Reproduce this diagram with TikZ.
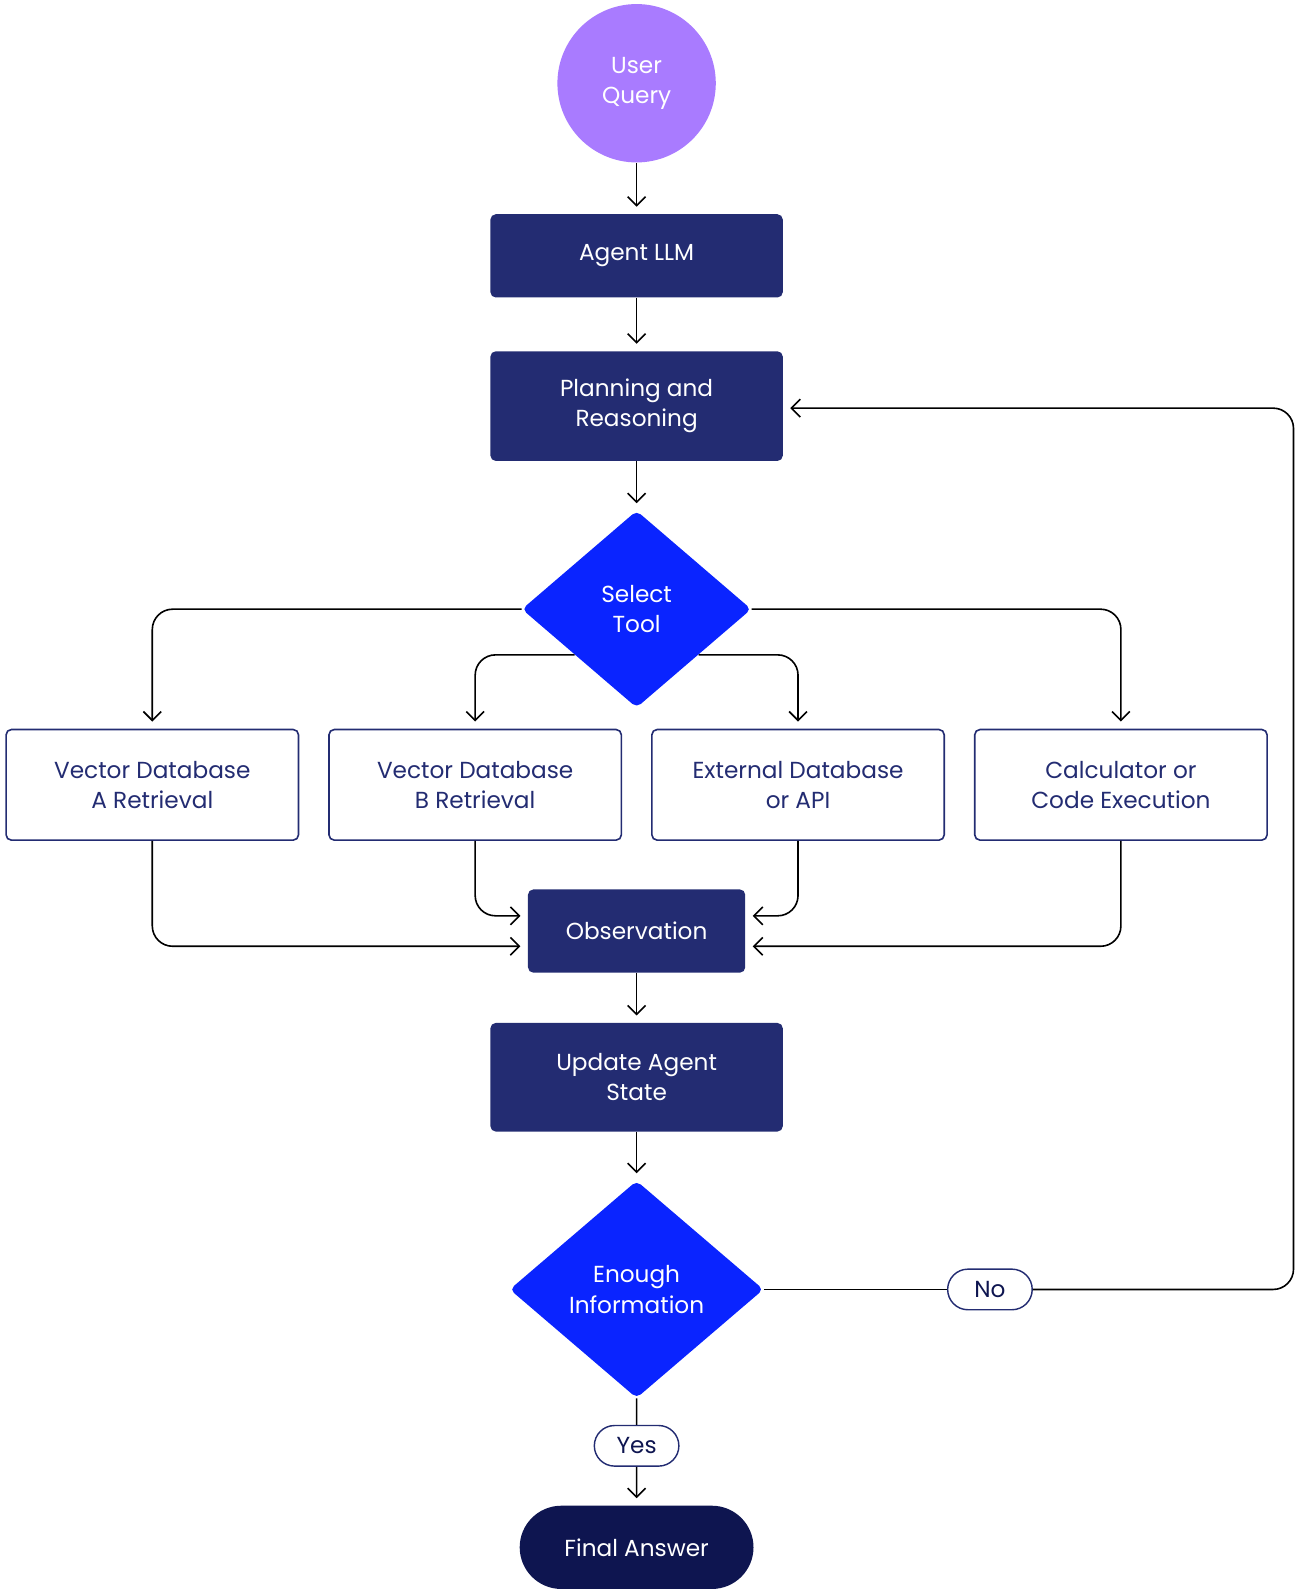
\documentclass[tikz,border=0pt]{standalone}
\usepackage{fontspec}
\setmainfont{Poppins}
\usetikzlibrary{shapes.geometric,shapes.misc,arrows.meta}
\definecolor{navy}{HTML}{232C72}
\definecolor{deepnavy}{HTML}{0E1550}
\definecolor{toolblue}{HTML}{0A24FF}
\definecolor{lilac}{HTML}{A97BFF}
\tikzset{
    stage/.style={draw=none, fill=navy, text=white, rounded corners=3pt, minimum width=5.76cm, align=center, font=\fontsize{13}{17}\selectfont},
    tool/.style={draw=navy, line width=0.9pt, fill=white, text=navy, rounded corners=3pt, minimum width=5.76cm, minimum height=2.18cm, align=center, font=\fontsize{13}{17}\selectfont},
    choice/.style={diamond, fill=toolblue, text=white, align=center, inner sep=0pt, rounded corners=3pt, font=\fontsize{13}{17}\selectfont},
    pill/.style={rounded rectangle, draw=navy, line width=0.8pt, fill=white, text=deepnavy, minimum width=1.9cm, minimum height=0.8cm, font=\fontsize{13}{17}\selectfont},
    flow/.style={-{Straight Barb[length=5pt,width=10pt]}, line width=0.9pt, rounded corners=0.4cm, shorten >=4pt},
    line/.style={line width=0.9pt, rounded corners=0.4cm}
}
\begin{document}
\begin{tikzpicture}
\useasboundingbox (0,0) rectangle (25.6,-31.36);
\node[circle, fill=lilac, text=white, minimum size=3.12cm, align=center, font=\fontsize{13}{17}\selectfont] (query) at (12.54,-1.64) {User\\Query};
\node[stage, minimum height=1.64cm] (llm) at (12.54,-5.04) {Agent LLM};
\node[stage, minimum height=2.16cm] (plan) at (12.54,-8.0) {Planning and\\Reasoning};
\node[choice, minimum width=4.52cm, minimum height=3.88cm] (select) at (12.54,-12.0) {Select\\Tool};
\node[tool] (vecA) at (3.0,-15.46) {Vector Database\\A Retrieval};
\node[tool] (vecB) at (9.36,-15.46) {Vector Database\\B Retrieval};
\node[tool] (ext) at (15.72,-15.46) {External Database\\or API};
\node[tool] (calc) at (22.08,-15.46) {Calculator or\\Code Execution};
\node[stage, minimum width=4.28cm, minimum height=1.64cm] (obs) at (12.54,-18.34) {Observation};
\node[stage, minimum height=2.14cm] (update) at (12.54,-21.22) {Update Agent\\State};
\node[choice, minimum width=5.0cm, minimum height=4.28cm] (enough) at (12.54,-25.4) {Enough\\Information};
\node[pill] (no) at (19.5,-25.4) {No};
\node[pill] (yes) at (12.54,-28.48) {Yes};
\node[rounded rectangle, fill=deepnavy, text=white, minimum width=4.84cm, minimum height=1.64cm, font=\fontsize{13}{17}\selectfont] (final) at (12.54,-30.48) {Final Answer};
\coordinate (sl) at (11.32,-12.9);
\coordinate (sr) at (13.76,-12.9);
\coordinate (loop) at (25.48,-25.4);

\draw[flow] (query) -- (llm);
\draw[flow] (llm) -- (plan);
\draw[flow] (plan) -- (select);
\draw[flow] (select.west) -| (vecA);
\draw[flow] (select.east) -| (calc);
\draw[flow] (sl) -| (vecB);
\draw[flow] (sr) -| (ext);
\draw[flow] (vecA) |- ([yshift=-0.3cm]obs.west);
\draw[flow] (vecB) |- ([yshift=0.3cm]obs.west);
\draw[flow] (ext) |- ([yshift=0.3cm]obs.east);
\draw[flow] (calc) |- ([yshift=-0.3cm]obs.east);
\draw[flow] (obs) -- (update);
\draw[flow] (update) -- (enough);
\draw[line] (enough.east) -- (no);
\draw[flow] (no) -- (loop) |- ([yshift=-0.04cm]plan.east);
\draw[line] (enough) -- (yes);
\draw[flow] (yes) -- (final);
\end{tikzpicture}
\end{document}
